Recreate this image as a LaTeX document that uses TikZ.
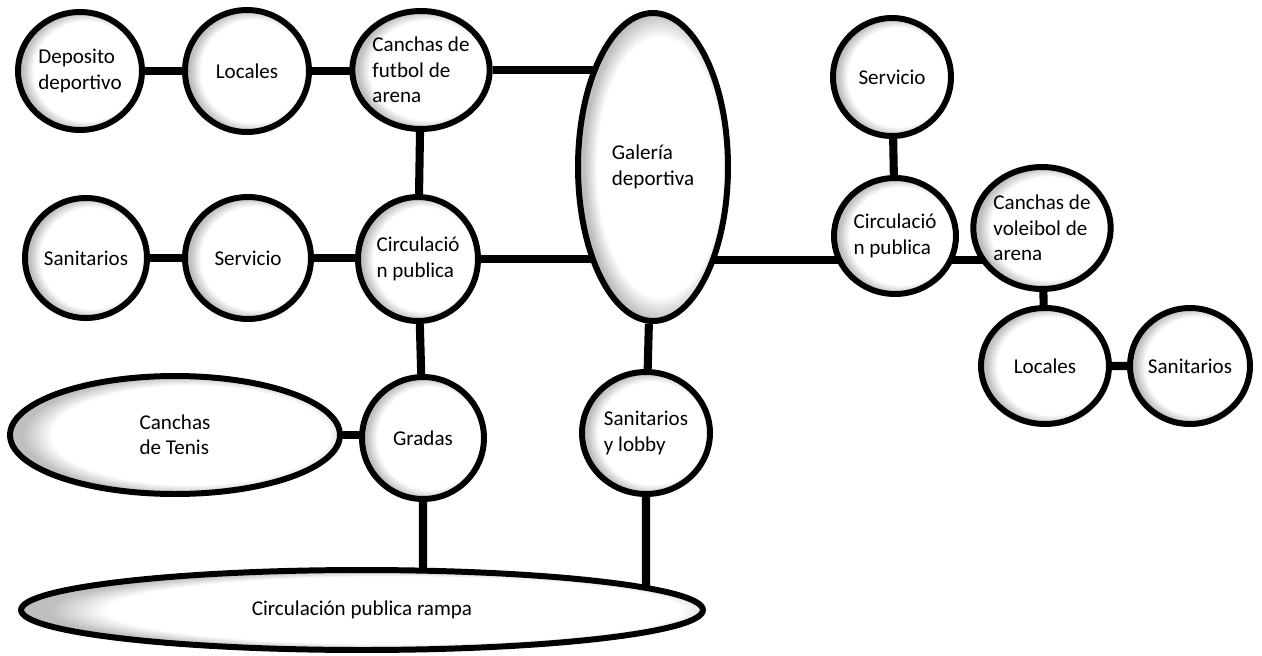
\documentclass[tikz,border=0pt]{standalone}
\usepackage{fontspec}
\setmainfont{Carlito}
\usetikzlibrary{shapes.geometric,backgrounds}
\pgfdeclareradialshading{sombra}{\pgfpoint{4bp}{0bp}}{color(0bp)=(white); color(21bp)=(white); color(25bp)=(black!25); color(50bp)=(black!25)}
\tikzset{
  espacio/.style={ellipse, draw=black, line width=3.4pt, shading=sombra, inner sep=0pt, align=left, font=\fontsize{12}{14.5}\selectfont},
  enlace/.style={line width=4.6pt, black},
}

\begin{document}
\begin{tikzpicture}[x=0.02cm, y=-0.02cm]
\useasboundingbox (0,0) rectangle (1262,656);
\node[espacio, minimum width=2.48cm, minimum height=2.36cm] (dep) at (80,71) {Deposito\\deportivo};
\node[espacio, minimum width=2.48cm, minimum height=2.44cm] (loc1) at (247,71) {Locales};
\node[espacio, minimum width=2.4cm, minimum height=2.36cm] (fut) at (421,70) {Canchas de\\futbol de\\arena};
\node[espacio, minimum width=3.0cm, minimum height=6.16cm] (gal) at (653,167) {Galería\\deportiva};
\node[espacio, minimum width=2.36cm, minimum height=2.36cm] (serR) at (892,77) {Servicio};
\node[espacio, minimum width=2.44cm, minimum height=2.32cm] (circR) at (895,236) {Circulació\\n publica};
\node[espacio, minimum width=2.48cm, minimum height=2.44cm] (vol) at (1042,228) {Canchas de\\voleibol de\\arena};
\node[espacio, minimum width=2.56cm, minimum height=2.32cm] (locR) at (1045,366) {Locales};
\node[espacio, minimum width=2.4cm, minimum height=2.32cm] (sanR) at (1190,366) {Sanitarios};
\node[espacio, minimum width=2.44cm, minimum height=2.4cm] (sanL) at (86,258) {Sanitarios};
\node[espacio, minimum width=2.52cm, minimum height=2.44cm] (serL) at (248,258) {Servicio};
\node[espacio, minimum width=2.4cm, minimum height=2.48cm] (circL) at (418,259) {Circulació\\n publica};
\node[espacio, minimum width=6.6cm, minimum height=2.36cm] (ten) at (175,435) {Canchas\\de Tenis};
\node[espacio, minimum width=2.44cm, minimum height=2.44cm] (grad) at (423,438) {Gradas};
\node[espacio, minimum width=2.56cm, minimum height=2.44cm] (sly) at (646,433) {Sanitarios\\y lobby};
\node[espacio, minimum width=13.64cm, minimum height=1.6cm] (ramp) at (362,610) {Circulación publica rampa};
\coordinate (pasillo) at (895,260);
\begin{scope}[on background layer]
\draw[enlace] (dep) -- (dep -| fut) (fut) -- (fut -| gal);
\draw[enlace] (fut) -- (circL) -- (grad) -- (grad |- ramp);
\draw[enlace] (sanL) -- (sanL -| circL) (circL) -- (circL -| gal);
\draw[enlace] (gal.center |- pasillo) -- (vol.center |- pasillo);
\draw[enlace] (serR) -- (circR);
\draw[enlace] (vol) -- (locR) -- (sanR);
\draw[enlace] (ten) -- (ten -| grad);
\draw[enlace] (gal) -- (sly) -- (sly |- ramp);
\end{scope}
\end{tikzpicture}
\end{document}
